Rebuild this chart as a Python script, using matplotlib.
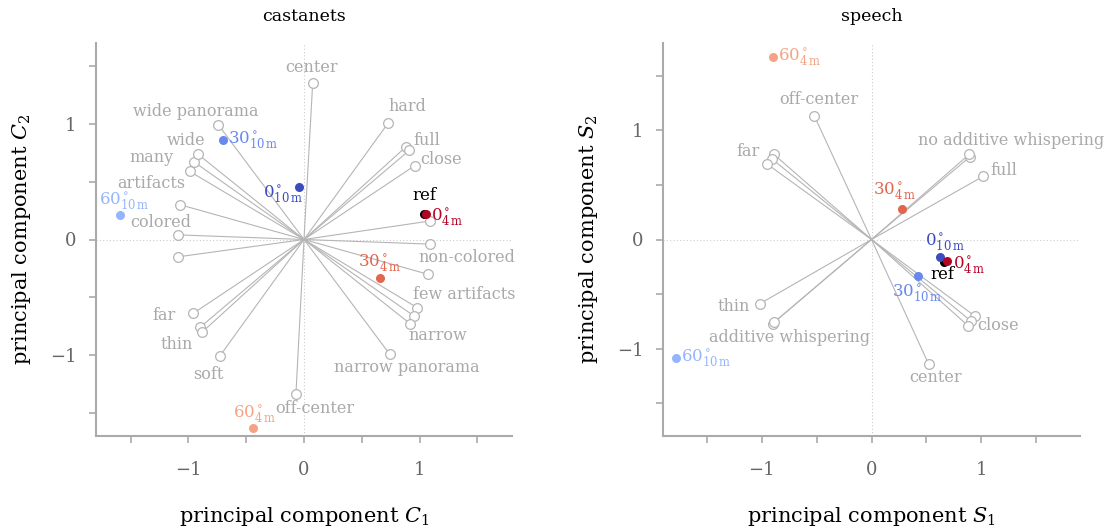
import matplotlib
matplotlib.use("Agg")
import matplotlib.pyplot as plt

plt.rcParams['font.family'] = ['DejaVu Serif']
plt.rcParams['mathtext.fontset'] = 'dejavuserif'

# ---------------- data: castanets ----------------
cast_labels = ["center", "hard", "full", "", "close", "", "non-colored", "few artifacts",
               "", "", "narrow", "narrow panorama", "off-center", "soft", "thin", "",
               "far", "", "colored", "artifacts", "many", "", "wide", "wide panorama"]
cast_x = [0.075, 0.73, 0.88, 0.91, 0.96, 1.09, 1.09, 1.07, 0.98, 0.95, 0.92, 0.74,
          -0.07, -0.73, -0.90, -0.88, -0.96, -1.09, -1.09, -1.07, -0.99, -0.95, -0.92, -0.74]
cast_y = [1.35, 1.01, 0.80, 0.77, 0.64, 0.16, -0.04, -0.30, -0.59, -0.66, -0.73, -0.99,
          -1.34, -1.01, -0.76, -0.80, -0.64, -0.15, 0.04, 0.30, 0.59, 0.67, 0.74, 0.99]

# stimuli: ref, 0°4m, 30°4m, 60°4m, 0°10m, 30°10m, 60°10m
stim_names = ["ref", "0_4", "30_4", "60_4", "0_10", "30_10", "60_10"]
stim_text = ["ref", r"$0^\circ_{4\,\mathrm{m}}$", r"$30^\circ_{4\,\mathrm{m}}$",
             r"$60^\circ_{4\,\mathrm{m}}$", r"$0^\circ_{10\,\mathrm{m}}$",
             r"$30^\circ_{10\,\mathrm{m}}$", r"$60^\circ_{10\,\mathrm{m}}$"]
cast_stim_x = [1.04, 1.06, 0.66, -0.44, -0.04, -0.70, -1.59]
cast_stim_y = [0.22, 0.22, -0.33, -1.63, 0.45, 0.86, 0.21]

# ---------------- data: speech ----------------
speech_labels = ["off-center", "far", "", "", "no additive whispering", "", "full",
                 "thin", "additive whispering", "", "", "", "close", "center"]
speech_x = [-0.52, -0.89, -0.91, -0.95, 0.90, 0.89, 1.02, -1.02, -0.90, -0.89,
            0.94, 0.91, 0.88, 0.52]
speech_y = [1.13, 0.78, 0.74, 0.69, 0.76, 0.78, 0.58, -0.59, -0.77, -0.76,
            -0.70, -0.75, -0.79, -1.14]
speech_stim_x = [0.66, 0.69, 0.28, -0.90, 0.62, 0.42, -1.78]
speech_stim_y = [-0.21, -0.20, 0.28, 1.67, -0.16, -0.33, -1.09]

# ---------------- styling (label offsets in pixels) ----------------
stim_colors = ["black", "#b40426", "#e2654e", "#f6a385", "#3b4cc0", "#6788ee", "#94b5fe"]

cast_label_off = {"center": (-1, 16, "center"), "hard": (19, 16, "center"),
                  "full": (21, 7, "center"), "close": (26, 6, "center"),
                  "non-colored": (37, -13, "center"), "few artifacts": (37, -20, "center"),
                  "narrow": (27, -12, "center"), "narrow panorama": (17, -14, "center"),
                  "off-center": (19, -14, "center"), "soft": (-11, -18, "center"),
                  "thin": (-23, -17, "center"), "far": (-29, -2, "center"),
                  "colored": (-17, 12, "center"), "artifacts": (-29, 21, "center"),
                  "many": (-38, 14, "center"), "wide": (-12, 13, "center"),
                  "wide panorama": (-23, 14, "center")}
speech_label_off = {"off-center": (4, 17, "center"), "far": (-26, 3, "center"),
                    "no additive whispering": (41, 16, "center"),
                    "full": (20, 6, "center"), "thin": (-26, -3, "center"),
                    "additive whispering": (17, -14, "center"),
                    "close": (30, 0, "center"), "center": (7, -14, "center")}

cast_stim_off = [(0, 19, "center"), (5, -3, "left"), (-1, 14, "center"), (1, 14, "center"),
                 (-16, -7, "center"), (5, 0, "left"), (4, 14, "center")]
speech_stim_off = [(-2, -12, "center"), (6, -4, "left"), (-8, 18, "center"), (5, 0, "left"),
                   (5, 15, "center"), (0, -18, "center"), (5, 0, "left")]

GRAY_TXT = "#a9a9a9"
LINE_C = "#b5b5b5"
SPINE_C = "#aaaaaa"

fig = plt.figure(figsize=(11.12, 5.32), dpi=100)
axL = fig.add_axes([96 / 1112, (532 - 436) / 532, 416 / 1112, 393 / 532])
axR = fig.add_axes([663 / 1112, (532 - 436) / 532, 417 / 1112, 393 / 532])


def draw(ax, lx, ly, labels, loff, sx, sy, soff, xlim, ylim, title, xl, yl):
    ax.set_xlim(*xlim)
    ax.set_ylim(*ylim)
    ax.axhline(0, color="#cccccc", lw=0.8, ls=(0, (1, 2)), zorder=0)
    ax.axvline(0, color="#cccccc", lw=0.8, ls=(0, (1, 2)), zorder=0)
    for x, y, lab in zip(lx, ly, labels):
        ax.plot([0, x], [0, y], color=LINE_C, lw=0.8, zorder=1)
        ax.plot(x, y, "o", ms=7, mfc="white", mec=LINE_C, mew=0.9, zorder=2)
        if lab:
            dx, dy, ha = loff[lab]
            ax.annotate(lab, (x, y), xytext=(dx, dy), textcoords="offset pixels",
                        ha=ha, va="center", color=GRAY_TXT, fontsize=11.5, zorder=3)
    for i, (x, y) in enumerate(zip(sx, sy)):
        ax.plot(x, y, "o", ms=6.5, color=stim_colors[i], mec="none", zorder=4 + (i == 1))
        dx, dy, ha = soff[i]
        ax.annotate(stim_text[i], (x, y), xytext=(dx, dy), textcoords="offset pixels",
                    ha=ha, va="center", color=stim_colors[i], fontsize=12, zorder=6)
    for s in ("top", "right"):
        ax.spines[s].set_visible(False)
    for s in ("left", "bottom"):
        ax.spines[s].set_color(SPINE_C)
        ax.spines[s].set_linewidth(1.5)
    ax.set_xticks([-1.5, -1, -0.5, 0, 0.5, 1, 1.5])
    ax.set_xticklabels(["", "\u22121", "", "0", "", "1", ""])
    ax.set_yticks([-1.5, -1, -0.5, 0, 0.5, 1, 1.5])
    ax.set_yticklabels(["", "\u22121", "", "0", "", "1", ""])
    ax.tick_params(colors=SPINE_C, labelcolor="#666666", labelsize=13, length=5,
                   width=1.2)
    ax.tick_params(axis="x", pad=13)
    ax.tick_params(axis="y", pad=9)
    ax.set_title(title, fontsize=12.5, pad=16)
    ax.set_xlabel(xl, fontsize=15, labelpad=19)
    ax.set_ylabel(yl, fontsize=15, labelpad=12)


draw(axL, cast_x, cast_y, cast_labels, cast_label_off, cast_stim_x, cast_stim_y,
     cast_stim_off, (-1.8, 1.8), (-1.7, 1.7), "castanets",
     r"principal component $C_1$", r"principal component $C_2$")
draw(axR, speech_x, speech_y, speech_labels, speech_label_off, speech_stim_x, speech_stim_y,
     speech_stim_off, (-1.9, 1.9), (-1.8, 1.8), "speech",
     r"principal component $S_1$", r"principal component $S_2$")

fig.savefig("out.png", dpi=100)
